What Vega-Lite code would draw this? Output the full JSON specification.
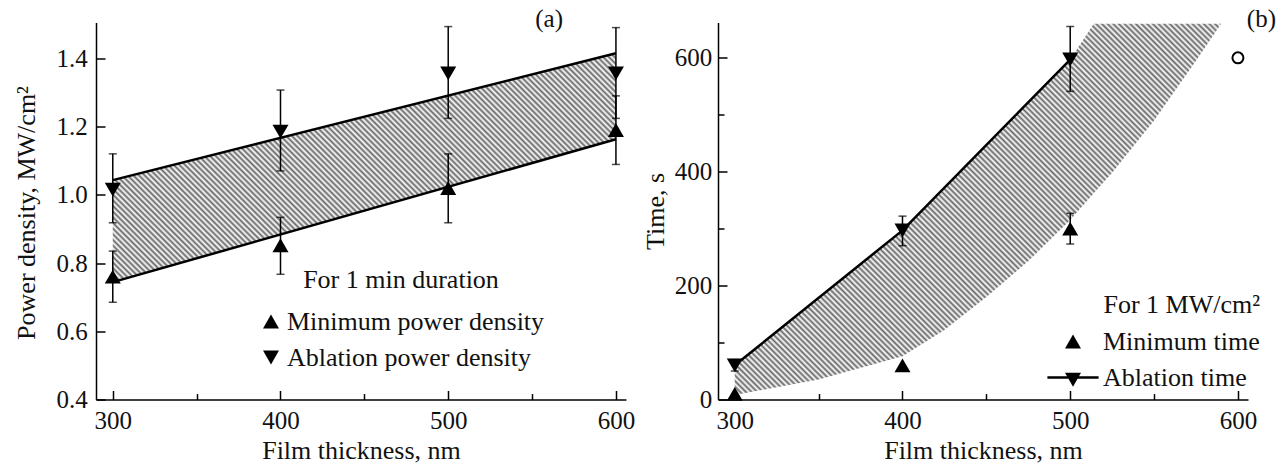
{
 "$schema": "https://vega.github.io/schema/vega-lite/v6.json",
 "background": "white",
 "padding": {"left": 13, "top": 6.5, "right": 5, "bottom": 5},
 "autosize": {"type": "pad"},
 "bounds": "flush",
 "spacing": 92,
 "resolve": {"scale": {"shape": "independent"}, "legend": {"shape": "independent"}},
 "config": {
  "font": "Liberation Serif",
  "view": {"stroke": null},
  "axis": {"domainColor": "#000", "domainWidth": 1.5, "tickColor": "#000", "tickWidth": 1.5, "labelFont": "Liberation Serif", "labelFontSize": 25, "labelColor": "#111", "titleFont": "Liberation Serif", "titleFontSize": 26, "titleFontWeight": "normal", "titleColor": "#111", "grid": false, "labelOverlap": false, "labelFlush": false},
  "legend": {"labelFont": "Liberation Serif", "labelFontSize": 26, "labelColor": "#111", "titleFont": "Liberation Serif", "titleFontSize": 26, "titleFontWeight": "normal", "titleColor": "#111", "symbolSize": 256, "padding": 0, "rowPadding": 10, "titleLimit": 400, "labelLimit": 400},
  "title": {"font": "Liberation Serif", "fontSize": 25, "fontWeight": "normal", "color": "#111", "anchor": "end", "baseline": "alphabetic", "offset": 0, "frame": "group"}
 },
 "datasets": {
  "band": [{"x": 300, "lo": 0.744, "hi": 1.043}, {"x": 600, "lo": 1.163, "hi": 1.415}],
  "pd": [
   {"x": 300, "series": "Minimum power density", "y": 0.76, "lo": 0.685, "hi": 0.835},
   {"x": 400, "series": "Minimum power density", "y": 0.852, "lo": 0.767, "hi": 0.934},
   {"x": 500, "series": "Minimum power density", "y": 1.02, "lo": 0.918, "hi": 1.12},
   {"x": 600, "series": "Minimum power density", "y": 1.19, "lo": 1.089, "hi": 1.29},
   {"x": 300, "series": "Ablation power density", "y": 1.015, "lo": 0.918, "hi": 1.12},
   {"x": 400, "series": "Ablation power density", "y": 1.185, "lo": 1.07, "hi": 1.307},
   {"x": 500, "series": "Ablation power density", "y": 1.356, "lo": 1.224, "hi": 1.493},
   {"x": 600, "series": "Ablation power density", "y": 1.356, "lo": 1.224, "hi": 1.49}
  ],
  "tband": [
   {"x": 300, "lo": 8, "hi": 60},
   {"x": 350, "lo": 35, "hi": 178.5},
   {"x": 400, "lo": 76, "hi": 297},
   {"x": 425, "lo": 122, "hi": 372},
   {"x": 450, "lo": 180, "hi": 447},
   {"x": 475, "lo": 243, "hi": 522},
   {"x": 500, "lo": 315, "hi": 597},
   {"x": 514, "lo": 362, "hi": 660},
   {"x": 525, "lo": 398, "hi": 660},
   {"x": 550, "lo": 490, "hi": 660},
   {"x": 575, "lo": 595, "hi": 660},
   {"x": 590, "lo": 660, "hi": 660}
  ],
  "time": [
   {"x": 300, "series": "Minimum time", "y": 10},
   {"x": 400, "series": "Minimum time", "y": 60},
   {"x": 500, "series": "Minimum time", "y": 300, "lo": 273, "hi": 327},
   {"x": 300, "series": "Ablation time", "y": 60, "lo": 50, "hi": 70},
   {"x": 400, "series": "Ablation time", "y": 297, "lo": 270, "hi": 322},
   {"x": 500, "series": "Ablation time", "y": 597, "lo": 541, "hi": 655}
  ],
  "open": [{"x": 600, "y": 600}]
 },
 "hconcat": [
  {
   "width": 530,
   "height": 377,
   "title": {"text": "(a)", "dx": -63, "dy": 13},
   "layer": [
    {
     "data": {"name": "band"},
     "mark": {"type": "area", "fill": {"gradient": "linear", "x1": 0, "y1": 1, "x2": 1.8628, "y2": 0.1526, "stops": [
{"offset":0,"color":"#fff"},{"offset":0.0025,"color":"#666"},{"offset":0.005,"color":"#fff"},{"offset":0.0075,"color":"#666"},
{"offset":0.01,"color":"#fff"},{"offset":0.0125,"color":"#666"},{"offset":0.015,"color":"#fff"},{"offset":0.0175,"color":"#666"},
{"offset":0.02,"color":"#fff"},{"offset":0.0225,"color":"#666"},{"offset":0.025,"color":"#fff"},{"offset":0.0275,"color":"#666"},
{"offset":0.03,"color":"#fff"},{"offset":0.0325,"color":"#666"},{"offset":0.035,"color":"#fff"},{"offset":0.0375,"color":"#666"},
{"offset":0.04,"color":"#fff"},{"offset":0.0425,"color":"#666"},{"offset":0.045,"color":"#fff"},{"offset":0.0475,"color":"#666"},
{"offset":0.05,"color":"#fff"},{"offset":0.0525,"color":"#666"},{"offset":0.055,"color":"#fff"},{"offset":0.0575,"color":"#666"},
{"offset":0.06,"color":"#fff"},{"offset":0.0625,"color":"#666"},{"offset":0.065,"color":"#fff"},{"offset":0.0675,"color":"#666"},
{"offset":0.07,"color":"#fff"},{"offset":0.0725,"color":"#666"},{"offset":0.075,"color":"#fff"},{"offset":0.0775,"color":"#666"},
{"offset":0.08,"color":"#fff"},{"offset":0.0825,"color":"#666"},{"offset":0.085,"color":"#fff"},{"offset":0.0875,"color":"#666"},
{"offset":0.09,"color":"#fff"},{"offset":0.0925,"color":"#666"},{"offset":0.095,"color":"#fff"},{"offset":0.0975,"color":"#666"},
{"offset":0.1,"color":"#fff"},{"offset":0.1025,"color":"#666"},{"offset":0.105,"color":"#fff"},{"offset":0.1075,"color":"#666"},
{"offset":0.11,"color":"#fff"},{"offset":0.1125,"color":"#666"},{"offset":0.115,"color":"#fff"},{"offset":0.1175,"color":"#666"},
{"offset":0.12,"color":"#fff"},{"offset":0.1225,"color":"#666"},{"offset":0.125,"color":"#fff"},{"offset":0.1275,"color":"#666"},
{"offset":0.13,"color":"#fff"},{"offset":0.1325,"color":"#666"},{"offset":0.135,"color":"#fff"},{"offset":0.1375,"color":"#666"},
{"offset":0.14,"color":"#fff"},{"offset":0.1425,"color":"#666"},{"offset":0.145,"color":"#fff"},{"offset":0.1475,"color":"#666"},
{"offset":0.15,"color":"#fff"},{"offset":0.1525,"color":"#666"},{"offset":0.155,"color":"#fff"},{"offset":0.1575,"color":"#666"},
{"offset":0.16,"color":"#fff"},{"offset":0.1625,"color":"#666"},{"offset":0.165,"color":"#fff"},{"offset":0.1675,"color":"#666"},
{"offset":0.17,"color":"#fff"},{"offset":0.1725,"color":"#666"},{"offset":0.175,"color":"#fff"},{"offset":0.1775,"color":"#666"},
{"offset":0.18,"color":"#fff"},{"offset":0.1825,"color":"#666"},{"offset":0.185,"color":"#fff"},{"offset":0.1875,"color":"#666"},
{"offset":0.19,"color":"#fff"},{"offset":0.1925,"color":"#666"},{"offset":0.195,"color":"#fff"},{"offset":0.1975,"color":"#666"},
{"offset":0.2,"color":"#fff"},{"offset":0.2025,"color":"#666"},{"offset":0.205,"color":"#fff"},{"offset":0.2075,"color":"#666"},
{"offset":0.21,"color":"#fff"},{"offset":0.2125,"color":"#666"},{"offset":0.215,"color":"#fff"},{"offset":0.2175,"color":"#666"},
{"offset":0.22,"color":"#fff"},{"offset":0.2225,"color":"#666"},{"offset":0.225,"color":"#fff"},{"offset":0.2275,"color":"#666"},
{"offset":0.23,"color":"#fff"},{"offset":0.2325,"color":"#666"},{"offset":0.235,"color":"#fff"},{"offset":0.2375,"color":"#666"},
{"offset":0.24,"color":"#fff"},{"offset":0.2425,"color":"#666"},{"offset":0.245,"color":"#fff"},{"offset":0.2475,"color":"#666"},
{"offset":0.25,"color":"#fff"},{"offset":0.2525,"color":"#666"},{"offset":0.255,"color":"#fff"},{"offset":0.2575,"color":"#666"},
{"offset":0.26,"color":"#fff"},{"offset":0.2625,"color":"#666"},{"offset":0.265,"color":"#fff"},{"offset":0.2675,"color":"#666"},
{"offset":0.27,"color":"#fff"},{"offset":0.2725,"color":"#666"},{"offset":0.275,"color":"#fff"},{"offset":0.2775,"color":"#666"},
{"offset":0.28,"color":"#fff"},{"offset":0.2825,"color":"#666"},{"offset":0.285,"color":"#fff"},{"offset":0.2875,"color":"#666"},
{"offset":0.29,"color":"#fff"},{"offset":0.2925,"color":"#666"},{"offset":0.295,"color":"#fff"},{"offset":0.2975,"color":"#666"},
{"offset":0.3,"color":"#fff"},{"offset":0.3025,"color":"#666"},{"offset":0.305,"color":"#fff"},{"offset":0.3075,"color":"#666"},
{"offset":0.31,"color":"#fff"},{"offset":0.3125,"color":"#666"},{"offset":0.315,"color":"#fff"},{"offset":0.3175,"color":"#666"},
{"offset":0.32,"color":"#fff"},{"offset":0.3225,"color":"#666"},{"offset":0.325,"color":"#fff"},{"offset":0.3275,"color":"#666"},
{"offset":0.33,"color":"#fff"},{"offset":0.3325,"color":"#666"},{"offset":0.335,"color":"#fff"},{"offset":0.3375,"color":"#666"},
{"offset":0.34,"color":"#fff"},{"offset":0.3425,"color":"#666"},{"offset":0.345,"color":"#fff"},{"offset":0.3475,"color":"#666"},
{"offset":0.35,"color":"#fff"},{"offset":0.3525,"color":"#666"},{"offset":0.355,"color":"#fff"},{"offset":0.3575,"color":"#666"},
{"offset":0.36,"color":"#fff"},{"offset":0.3625,"color":"#666"},{"offset":0.365,"color":"#fff"},{"offset":0.3675,"color":"#666"},
{"offset":0.37,"color":"#fff"},{"offset":0.3725,"color":"#666"},{"offset":0.375,"color":"#fff"},{"offset":0.3775,"color":"#666"},
{"offset":0.38,"color":"#fff"},{"offset":0.3825,"color":"#666"},{"offset":0.385,"color":"#fff"},{"offset":0.3875,"color":"#666"},
{"offset":0.39,"color":"#fff"},{"offset":0.3925,"color":"#666"},{"offset":0.395,"color":"#fff"},{"offset":0.3975,"color":"#666"},
{"offset":0.4,"color":"#fff"},{"offset":0.4025,"color":"#666"},{"offset":0.405,"color":"#fff"},{"offset":0.4075,"color":"#666"},
{"offset":0.41,"color":"#fff"},{"offset":0.4125,"color":"#666"},{"offset":0.415,"color":"#fff"},{"offset":0.4175,"color":"#666"},
{"offset":0.42,"color":"#fff"},{"offset":0.4225,"color":"#666"},{"offset":0.425,"color":"#fff"},{"offset":0.4275,"color":"#666"},
{"offset":0.43,"color":"#fff"},{"offset":0.4325,"color":"#666"},{"offset":0.435,"color":"#fff"},{"offset":0.4375,"color":"#666"},
{"offset":0.44,"color":"#fff"},{"offset":0.4425,"color":"#666"},{"offset":0.445,"color":"#fff"},{"offset":0.4475,"color":"#666"},
{"offset":0.45,"color":"#fff"},{"offset":0.4525,"color":"#666"},{"offset":0.455,"color":"#fff"},{"offset":0.4575,"color":"#666"},
{"offset":0.46,"color":"#fff"},{"offset":0.4625,"color":"#666"},{"offset":0.465,"color":"#fff"},{"offset":0.4675,"color":"#666"},
{"offset":0.47,"color":"#fff"},{"offset":0.4725,"color":"#666"},{"offset":0.475,"color":"#fff"},{"offset":0.4775,"color":"#666"},
{"offset":0.48,"color":"#fff"},{"offset":0.4825,"color":"#666"},{"offset":0.485,"color":"#fff"},{"offset":0.4875,"color":"#666"},
{"offset":0.49,"color":"#fff"},{"offset":0.4925,"color":"#666"},{"offset":0.495,"color":"#fff"},{"offset":0.4975,"color":"#666"},
{"offset":0.5,"color":"#fff"},{"offset":0.5025,"color":"#666"},{"offset":0.505,"color":"#fff"},{"offset":0.5075,"color":"#666"},
{"offset":0.51,"color":"#fff"},{"offset":0.5125,"color":"#666"},{"offset":0.515,"color":"#fff"},{"offset":0.5175,"color":"#666"},
{"offset":0.52,"color":"#fff"},{"offset":0.5225,"color":"#666"},{"offset":0.525,"color":"#fff"},{"offset":0.5275,"color":"#666"},
{"offset":0.53,"color":"#fff"},{"offset":0.5325,"color":"#666"},{"offset":0.535,"color":"#fff"},{"offset":0.5375,"color":"#666"},
{"offset":0.54,"color":"#fff"},{"offset":0.5425,"color":"#666"},{"offset":0.545,"color":"#fff"},{"offset":0.5475,"color":"#666"},
{"offset":0.55,"color":"#fff"},{"offset":0.5525,"color":"#666"},{"offset":0.555,"color":"#fff"},{"offset":0.5575,"color":"#666"},
{"offset":0.56,"color":"#fff"},{"offset":0.5625,"color":"#666"},{"offset":0.565,"color":"#fff"},{"offset":0.5675,"color":"#666"},
{"offset":0.57,"color":"#fff"},{"offset":0.5725,"color":"#666"},{"offset":0.575,"color":"#fff"},{"offset":0.5775,"color":"#666"},
{"offset":0.58,"color":"#fff"},{"offset":0.5825,"color":"#666"},{"offset":0.585,"color":"#fff"},{"offset":0.5875,"color":"#666"},
{"offset":0.59,"color":"#fff"},{"offset":0.5925,"color":"#666"},{"offset":0.595,"color":"#fff"},{"offset":0.5975,"color":"#666"},
{"offset":0.6,"color":"#fff"},{"offset":0.6025,"color":"#666"},{"offset":0.605,"color":"#fff"},{"offset":0.6075,"color":"#666"},
{"offset":0.61,"color":"#fff"},{"offset":0.6125,"color":"#666"},{"offset":0.615,"color":"#fff"},{"offset":0.6175,"color":"#666"},
{"offset":0.62,"color":"#fff"},{"offset":0.6225,"color":"#666"},{"offset":0.625,"color":"#fff"},{"offset":0.6275,"color":"#666"},
{"offset":0.63,"color":"#fff"},{"offset":0.6325,"color":"#666"},{"offset":0.635,"color":"#fff"},{"offset":0.6375,"color":"#666"},
{"offset":0.64,"color":"#fff"},{"offset":0.6425,"color":"#666"},{"offset":0.645,"color":"#fff"},{"offset":0.6475,"color":"#666"},
{"offset":0.65,"color":"#fff"}]}},
     "encoding": {
      "x": {"field": "x", "type": "quantitative", "scale": {"domain": [290, 606], "nice": false},
       "axis": {"title": "Film thickness, nm", "values": [300, 350, 400, 450, 500, 550, 600], "format": "d",
        "labelExpr": "datum.value % 100 === 0 ? datum.label : ''",
        "tickSize": {"condition": {"test": "datum.value % 100 === 0", "value": -9}, "value": -6},
        "labelPadding": 38, "labelBaseline": "alphabetic", "titleY": 59, "titleBaseline": "alphabetic"}},
      "y": {"field": "hi", "type": "quantitative", "title": "Power density, MW/cm²", "scale": {"domain": [0.4, 1.505], "nice": false},
       "axis": {"title": "Power density, MW/cm²", "values": [0.4, 0.5, 0.6, 0.7, 0.8, 0.9, 1.0, 1.1, 1.2, 1.3, 1.4, 1.5], "format": ".1f",
        "labelExpr": "round(datum.value * 10) % 2 === 0 ? datum.label : ''",
        "tickSize": {"condition": {"test": "round(datum.value * 10) % 2 === 0", "value": -9}, "value": -6},
        "labelPadding": 17.7, "titleX": -62, "titleY": 190, "titleBaseline": "alphabetic"}},
      "y2": {"field": "lo"}
     }
    },
    {
     "data": {"name": "band"},
     "mark": {"type": "line", "color": "#000", "strokeWidth": 2.5},
     "encoding": {"x": {"field": "x", "type": "quantitative", "title": "Film thickness, nm"}, "y": {"field": "hi", "type": "quantitative", "title": "Power density, MW/cm²"}}
    },
    {
     "data": {"name": "band"},
     "mark": {"type": "line", "color": "#000", "strokeWidth": 2.5},
     "encoding": {"x": {"field": "x", "type": "quantitative", "title": "Film thickness, nm"}, "y": {"field": "lo", "type": "quantitative", "title": "Power density, MW/cm²"}}
    },
    {
     "data": {"name": "pd"},
     "mark": {"type": "errorbar", "ticks": {"size": 8, "thickness": 1.5, "color": "#000"}, "rule": {"strokeWidth": 1.5, "color": "#000"}},
     "encoding": {"x": {"field": "x", "type": "quantitative", "title": "Film thickness, nm"}, "y": {"field": "lo", "type": "quantitative", "title": "Power density, MW/cm²"}, "y2": {"field": "hi"}}
    },
    {
     "data": {"name": "pd"},
     "mark": {"type": "point", "filled": true, "size": 256, "color": "#000", "opacity": 1},
     "encoding": {
      "x": {"field": "x", "type": "quantitative", "title": "Film thickness, nm"},
      "y": {"field": "y", "type": "quantitative", "title": "Power density, MW/cm²"},
      "shape": {"field": "series", "type": "nominal",
       "scale": {"domain": ["Minimum power density", "Ablation power density"], "range": ["triangle-up", "triangle-down"]},
       "legend": {"title": "For 1 min duration", "orient": "none", "legendX": 162, "legendY": 244, "titleAnchor": "middle", "titlePadding": 16, "labelOffset": 3}}
     }
    }
   ]
  },
  {
   "width": 530,
   "height": 377,
   "title": {"text": "(b)", "dx": 28, "dy": 13},
   "layer": [
    {
     "data": {"name": "tband"},
     "mark": {"type": "area", "fill": {"gradient": "linear", "x1": 0, "y1": 1, "x2": 1.4696, "y2": -0.1218, "stops": [
{"offset":0,"color":"#fff"},{"offset":0.0025,"color":"#666"},{"offset":0.005,"color":"#fff"},{"offset":0.0075,"color":"#666"},
{"offset":0.01,"color":"#fff"},{"offset":0.0125,"color":"#666"},{"offset":0.015,"color":"#fff"},{"offset":0.0175,"color":"#666"},
{"offset":0.02,"color":"#fff"},{"offset":0.0225,"color":"#666"},{"offset":0.025,"color":"#fff"},{"offset":0.0275,"color":"#666"},
{"offset":0.03,"color":"#fff"},{"offset":0.0325,"color":"#666"},{"offset":0.035,"color":"#fff"},{"offset":0.0375,"color":"#666"},
{"offset":0.04,"color":"#fff"},{"offset":0.0425,"color":"#666"},{"offset":0.045,"color":"#fff"},{"offset":0.0475,"color":"#666"},
{"offset":0.05,"color":"#fff"},{"offset":0.0525,"color":"#666"},{"offset":0.055,"color":"#fff"},{"offset":0.0575,"color":"#666"},
{"offset":0.06,"color":"#fff"},{"offset":0.0625,"color":"#666"},{"offset":0.065,"color":"#fff"},{"offset":0.0675,"color":"#666"},
{"offset":0.07,"color":"#fff"},{"offset":0.0725,"color":"#666"},{"offset":0.075,"color":"#fff"},{"offset":0.0775,"color":"#666"},
{"offset":0.08,"color":"#fff"},{"offset":0.0825,"color":"#666"},{"offset":0.085,"color":"#fff"},{"offset":0.0875,"color":"#666"},
{"offset":0.09,"color":"#fff"},{"offset":0.0925,"color":"#666"},{"offset":0.095,"color":"#fff"},{"offset":0.0975,"color":"#666"},
{"offset":0.1,"color":"#fff"},{"offset":0.1025,"color":"#666"},{"offset":0.105,"color":"#fff"},{"offset":0.1075,"color":"#666"},
{"offset":0.11,"color":"#fff"},{"offset":0.1125,"color":"#666"},{"offset":0.115,"color":"#fff"},{"offset":0.1175,"color":"#666"},
{"offset":0.12,"color":"#fff"},{"offset":0.1225,"color":"#666"},{"offset":0.125,"color":"#fff"},{"offset":0.1275,"color":"#666"},
{"offset":0.13,"color":"#fff"},{"offset":0.1325,"color":"#666"},{"offset":0.135,"color":"#fff"},{"offset":0.1375,"color":"#666"},
{"offset":0.14,"color":"#fff"},{"offset":0.1425,"color":"#666"},{"offset":0.145,"color":"#fff"},{"offset":0.1475,"color":"#666"},
{"offset":0.15,"color":"#fff"},{"offset":0.1525,"color":"#666"},{"offset":0.155,"color":"#fff"},{"offset":0.1575,"color":"#666"},
{"offset":0.16,"color":"#fff"},{"offset":0.1625,"color":"#666"},{"offset":0.165,"color":"#fff"},{"offset":0.1675,"color":"#666"},
{"offset":0.17,"color":"#fff"},{"offset":0.1725,"color":"#666"},{"offset":0.175,"color":"#fff"},{"offset":0.1775,"color":"#666"},
{"offset":0.18,"color":"#fff"},{"offset":0.1825,"color":"#666"},{"offset":0.185,"color":"#fff"},{"offset":0.1875,"color":"#666"},
{"offset":0.19,"color":"#fff"},{"offset":0.1925,"color":"#666"},{"offset":0.195,"color":"#fff"},{"offset":0.1975,"color":"#666"},
{"offset":0.2,"color":"#fff"},{"offset":0.2025,"color":"#666"},{"offset":0.205,"color":"#fff"},{"offset":0.2075,"color":"#666"},
{"offset":0.21,"color":"#fff"},{"offset":0.2125,"color":"#666"},{"offset":0.215,"color":"#fff"},{"offset":0.2175,"color":"#666"},
{"offset":0.22,"color":"#fff"},{"offset":0.2225,"color":"#666"},{"offset":0.225,"color":"#fff"},{"offset":0.2275,"color":"#666"},
{"offset":0.23,"color":"#fff"},{"offset":0.2325,"color":"#666"},{"offset":0.235,"color":"#fff"},{"offset":0.2375,"color":"#666"},
{"offset":0.24,"color":"#fff"},{"offset":0.2425,"color":"#666"},{"offset":0.245,"color":"#fff"},{"offset":0.2475,"color":"#666"},
{"offset":0.25,"color":"#fff"},{"offset":0.2525,"color":"#666"},{"offset":0.255,"color":"#fff"},{"offset":0.2575,"color":"#666"},
{"offset":0.26,"color":"#fff"},{"offset":0.2625,"color":"#666"},{"offset":0.265,"color":"#fff"},{"offset":0.2675,"color":"#666"},
{"offset":0.27,"color":"#fff"},{"offset":0.2725,"color":"#666"},{"offset":0.275,"color":"#fff"},{"offset":0.2775,"color":"#666"},
{"offset":0.28,"color":"#fff"},{"offset":0.2825,"color":"#666"},{"offset":0.285,"color":"#fff"},{"offset":0.2875,"color":"#666"},
{"offset":0.29,"color":"#fff"},{"offset":0.2925,"color":"#666"},{"offset":0.295,"color":"#fff"},{"offset":0.2975,"color":"#666"},
{"offset":0.3,"color":"#fff"},{"offset":0.3025,"color":"#666"},{"offset":0.305,"color":"#fff"},{"offset":0.3075,"color":"#666"},
{"offset":0.31,"color":"#fff"},{"offset":0.3125,"color":"#666"},{"offset":0.315,"color":"#fff"},{"offset":0.3175,"color":"#666"},
{"offset":0.32,"color":"#fff"},{"offset":0.3225,"color":"#666"},{"offset":0.325,"color":"#fff"},{"offset":0.3275,"color":"#666"},
{"offset":0.33,"color":"#fff"},{"offset":0.3325,"color":"#666"},{"offset":0.335,"color":"#fff"},{"offset":0.3375,"color":"#666"},
{"offset":0.34,"color":"#fff"},{"offset":0.3425,"color":"#666"},{"offset":0.345,"color":"#fff"},{"offset":0.3475,"color":"#666"},
{"offset":0.35,"color":"#fff"},{"offset":0.3525,"color":"#666"},{"offset":0.355,"color":"#fff"},{"offset":0.3575,"color":"#666"},
{"offset":0.36,"color":"#fff"},{"offset":0.3625,"color":"#666"},{"offset":0.365,"color":"#fff"},{"offset":0.3675,"color":"#666"},
{"offset":0.37,"color":"#fff"},{"offset":0.3725,"color":"#666"},{"offset":0.375,"color":"#fff"},{"offset":0.3775,"color":"#666"},
{"offset":0.38,"color":"#fff"},{"offset":0.3825,"color":"#666"},{"offset":0.385,"color":"#fff"},{"offset":0.3875,"color":"#666"},
{"offset":0.39,"color":"#fff"},{"offset":0.3925,"color":"#666"},{"offset":0.395,"color":"#fff"},{"offset":0.3975,"color":"#666"},
{"offset":0.4,"color":"#fff"},{"offset":0.4025,"color":"#666"},{"offset":0.405,"color":"#fff"},{"offset":0.4075,"color":"#666"},
{"offset":0.41,"color":"#fff"},{"offset":0.4125,"color":"#666"},{"offset":0.415,"color":"#fff"},{"offset":0.4175,"color":"#666"},
{"offset":0.42,"color":"#fff"},{"offset":0.4225,"color":"#666"},{"offset":0.425,"color":"#fff"},{"offset":0.4275,"color":"#666"},
{"offset":0.43,"color":"#fff"},{"offset":0.4325,"color":"#666"},{"offset":0.435,"color":"#fff"},{"offset":0.4375,"color":"#666"},
{"offset":0.44,"color":"#fff"},{"offset":0.4425,"color":"#666"},{"offset":0.445,"color":"#fff"},{"offset":0.4475,"color":"#666"},
{"offset":0.45,"color":"#fff"},{"offset":0.4525,"color":"#666"},{"offset":0.455,"color":"#fff"},{"offset":0.4575,"color":"#666"},
{"offset":0.46,"color":"#fff"},{"offset":0.4625,"color":"#666"},{"offset":0.465,"color":"#fff"},{"offset":0.4675,"color":"#666"},
{"offset":0.47,"color":"#fff"},{"offset":0.4725,"color":"#666"},{"offset":0.475,"color":"#fff"},{"offset":0.4775,"color":"#666"},
{"offset":0.48,"color":"#fff"},{"offset":0.4825,"color":"#666"},{"offset":0.485,"color":"#fff"},{"offset":0.4875,"color":"#666"},
{"offset":0.49,"color":"#fff"},{"offset":0.4925,"color":"#666"},{"offset":0.495,"color":"#fff"},{"offset":0.4975,"color":"#666"},
{"offset":0.5,"color":"#fff"},{"offset":0.5025,"color":"#666"},{"offset":0.505,"color":"#fff"},{"offset":0.5075,"color":"#666"},
{"offset":0.51,"color":"#fff"},{"offset":0.5125,"color":"#666"},{"offset":0.515,"color":"#fff"},{"offset":0.5175,"color":"#666"},
{"offset":0.52,"color":"#fff"},{"offset":0.5225,"color":"#666"},{"offset":0.525,"color":"#fff"},{"offset":0.5275,"color":"#666"},
{"offset":0.53,"color":"#fff"},{"offset":0.5325,"color":"#666"},{"offset":0.535,"color":"#fff"},{"offset":0.5375,"color":"#666"},
{"offset":0.54,"color":"#fff"},{"offset":0.5425,"color":"#666"},{"offset":0.545,"color":"#fff"},{"offset":0.5475,"color":"#666"},
{"offset":0.55,"color":"#fff"},{"offset":0.5525,"color":"#666"},{"offset":0.555,"color":"#fff"},{"offset":0.5575,"color":"#666"},
{"offset":0.56,"color":"#fff"},{"offset":0.5625,"color":"#666"},{"offset":0.565,"color":"#fff"},{"offset":0.5675,"color":"#666"},
{"offset":0.57,"color":"#fff"},{"offset":0.5725,"color":"#666"},{"offset":0.575,"color":"#fff"},{"offset":0.5775,"color":"#666"},
{"offset":0.58,"color":"#fff"},{"offset":0.5825,"color":"#666"},{"offset":0.585,"color":"#fff"},{"offset":0.5875,"color":"#666"},
{"offset":0.59,"color":"#fff"},{"offset":0.5925,"color":"#666"},{"offset":0.595,"color":"#fff"},{"offset":0.5975,"color":"#666"},
{"offset":0.6,"color":"#fff"},{"offset":0.6025,"color":"#666"},{"offset":0.605,"color":"#fff"},{"offset":0.6075,"color":"#666"},
{"offset":0.61,"color":"#fff"},{"offset":0.6125,"color":"#666"},{"offset":0.615,"color":"#fff"},{"offset":0.6175,"color":"#666"},
{"offset":0.62,"color":"#fff"},{"offset":0.6225,"color":"#666"},{"offset":0.625,"color":"#fff"},{"offset":0.6275,"color":"#666"},
{"offset":0.63,"color":"#fff"},{"offset":0.6325,"color":"#666"},{"offset":0.635,"color":"#fff"},{"offset":0.6375,"color":"#666"},
{"offset":0.64,"color":"#fff"},{"offset":0.6425,"color":"#666"},{"offset":0.645,"color":"#fff"},{"offset":0.6475,"color":"#666"},
{"offset":0.65,"color":"#fff"},{"offset":0.6525,"color":"#666"},{"offset":0.655,"color":"#fff"},{"offset":0.6575,"color":"#666"},
{"offset":0.66,"color":"#fff"},{"offset":0.6625,"color":"#666"},{"offset":0.665,"color":"#fff"},{"offset":0.6675,"color":"#666"},
{"offset":0.67,"color":"#fff"},{"offset":0.6725,"color":"#666"},{"offset":0.675,"color":"#fff"},{"offset":0.6775,"color":"#666"},
{"offset":0.68,"color":"#fff"},{"offset":0.6825,"color":"#666"},{"offset":0.685,"color":"#fff"},{"offset":0.6875,"color":"#666"},
{"offset":0.69,"color":"#fff"},{"offset":0.6925,"color":"#666"},{"offset":0.695,"color":"#fff"},{"offset":0.6975,"color":"#666"},
{"offset":0.7,"color":"#fff"},{"offset":0.7025,"color":"#666"},{"offset":0.705,"color":"#fff"},{"offset":0.7075,"color":"#666"},
{"offset":0.71,"color":"#fff"},{"offset":0.7125,"color":"#666"},{"offset":0.715,"color":"#fff"},{"offset":0.7175,"color":"#666"},
{"offset":0.72,"color":"#fff"},{"offset":0.7225,"color":"#666"},{"offset":0.725,"color":"#fff"},{"offset":0.7275,"color":"#666"},
{"offset":0.73,"color":"#fff"},{"offset":0.7325,"color":"#666"},{"offset":0.735,"color":"#fff"},{"offset":0.7375,"color":"#666"},
{"offset":0.74,"color":"#fff"},{"offset":0.7425,"color":"#666"},{"offset":0.745,"color":"#fff"},{"offset":0.7475,"color":"#666"},
{"offset":0.75,"color":"#fff"},{"offset":0.7525,"color":"#666"},{"offset":0.755,"color":"#fff"},{"offset":0.7575,"color":"#666"},
{"offset":0.76,"color":"#fff"}]}},
     "encoding": {
      "x": {"field": "x", "type": "quantitative", "scale": {"domain": [290, 606], "nice": false},
       "axis": {"title": "Film thickness, nm", "values": [300, 350, 400, 450, 500, 550, 600], "format": "d",
        "labelExpr": "datum.value % 100 === 0 ? datum.label : ''",
        "tickSize": {"condition": {"test": "datum.value % 100 === 0", "value": -9}, "value": -6},
        "labelPadding": 38, "labelBaseline": "alphabetic", "titleY": 59, "titleBaseline": "alphabetic"}},
      "y": {"field": "hi", "type": "quantitative", "title": "Time, s", "scale": {"domain": [0, 662], "nice": false},
       "axis": {"title": "Time, s", "values": [0, 50, 100, 150, 200, 250, 300, 350, 400, 450, 500, 550, 600, 650], "format": "d",
        "labelExpr": "datum.value % 200 === 0 ? datum.label : ''",
        "tickSize": {"condition": {"test": "datum.value % 200 === 0", "value": -9}, "value": -6},
        "labelPadding": 15.3, "titleX": -54.3, "titleY": 188.5, "titleBaseline": "alphabetic"}},
      "y2": {"field": "lo"}
     }
    },
    {
     "data": {"name": "time"},
     "transform": [{"filter": "datum.series === 'Ablation time'"}],
     "mark": {"type": "line", "color": "#000", "strokeWidth": 2.5},
     "encoding": {"x": {"field": "x", "type": "quantitative", "title": "Film thickness, nm"}, "y": {"field": "y", "type": "quantitative", "title": "Time, s"}}
    },
    {
     "data": {"name": "time"},
     "mark": {"type": "errorbar", "ticks": {"size": 8, "thickness": 1.5, "color": "#000"}, "rule": {"strokeWidth": 1.5, "color": "#000"}},
     "encoding": {"x": {"field": "x", "type": "quantitative", "title": "Film thickness, nm"}, "y": {"field": "lo", "type": "quantitative", "title": "Time, s"}, "y2": {"field": "hi"}}
    },
    {
     "data": {"name": "time"},
     "transform": [{"filter": "datum.series === 'Ablation time'"}],
     "mark": {"type": "point", "filled": true, "shape": "triangle-down", "size": 256, "color": "#000", "opacity": 1},
     "encoding": {"x": {"field": "x", "type": "quantitative", "title": "Film thickness, nm"}, "y": {"field": "y", "type": "quantitative", "title": "Time, s"}}
    },
    {
     "data": {"name": "time"},
     "transform": [{"filter": "datum.series === 'Minimum time'"}],
     "mark": {"type": "point", "filled": true, "size": 256, "color": "#000", "opacity": 1},
     "encoding": {
      "x": {"field": "x", "type": "quantitative", "title": "Film thickness, nm"},
      "y": {"field": "y", "type": "quantitative", "title": "Time, s"},
      "shape": {"field": "series", "type": "nominal",
       "scale": {"domain": ["Minimum time", "Ablation time"], "range": ["triangle-up", "M-3.2,-0.15H3.2V0.15H-3.2Z M-1,-0.58H1L0,1.15Z"]},
       "legend": {"title": "For 1 MW/cm²", "orient": "none", "legendX": 342, "legendY": 269, "titleAnchor": "end", "titlePadding": 11, "labelOffset": 17}}
     }
    },
    {
     "data": {"name": "open"},
     "mark": {"type": "point", "shape": "circle", "filled": false, "size": 121, "strokeWidth": 2, "color": "#000", "opacity": 1},
     "encoding": {"x": {"field": "x", "type": "quantitative", "title": "Film thickness, nm"}, "y": {"field": "y", "type": "quantitative", "title": "Time, s"}}
    }
   ]
  }
 ]
}
